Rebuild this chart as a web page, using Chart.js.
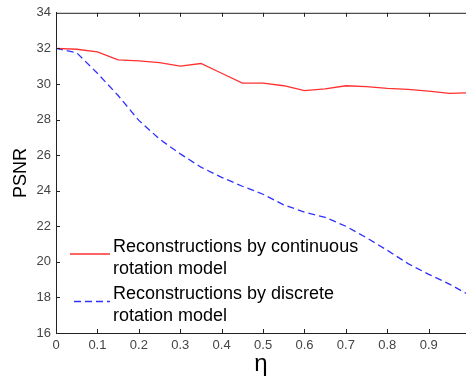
<!DOCTYPE html>
<html>
<head>
<meta charset="utf-8">
<script src="https://cdn.jsdelivr.net/npm/chart.js@4/dist/chart.umd.min.js"></script>
<style>
  html, body { margin: 0; padding: 0; background: #fff; }
  #wrap { width: 466px; height: 384px; }
</style>
</head>
<body>
<div id="wrap"><canvas id="psnrChart" width="466" height="384"></canvas></div>
<script>
// eta sampled every 0.05
const etaValues = [0, 0.05, 0.1, 0.15, 0.2, 0.25, 0.3, 0.35, 0.4, 0.45, 0.5,
                   0.55, 0.6, 0.65, 0.7, 0.75, 0.8, 0.85, 0.9, 0.95, 1.0];
const continuousPsnr = [32.0, 31.95, 31.8, 31.35, 31.3, 31.2, 31.0, 31.15, 30.6, 30.05, 30.05,
                        29.9, 29.62, 29.72, 29.9, 29.85, 29.75, 29.7, 29.6, 29.47, 29.5];
const discretePsnr = [32.0, 31.75, 30.6, 29.35, 27.95, 26.9, 26.07, 25.32, 24.75, 24.25, 23.8,
                      23.2, 22.8, 22.5, 22.0, 21.35, 20.65, 19.9, 19.3, 18.75, 18.1];
const legendLabels = [
  ['Reconstructions by continuous', 'rotation model'],
  ['Reconstructions by discrete', 'rotation model']
];
const xLimits = [0, 0.99];
const yLimits = [16, 34];

const toPoints = (ys) => etaValues.map((x, i) => ({ x: x, y: ys[i] }));

// inward tick marks, top border line and the in-plot legend
const matlabAxes = {
  id: 'matlabAxes',
  afterDraw(chart) {
    const { ctx, chartArea: a, scales } = chart;
    ctx.save();
    ctx.strokeStyle = '#222';
    ctx.lineWidth = 1;
    ctx.beginPath();
    ctx.moveTo(a.left, a.top + 0.5);
    ctx.lineTo(a.right, a.top + 0.5);
    scales.x.ticks.forEach(t => {
      const px = Math.round(scales.x.getPixelForValue(t.value)) + 0.5;
      if (px <= a.left + 1) return;
      ctx.moveTo(px, a.bottom);
      ctx.lineTo(px, a.bottom - 4);
      ctx.moveTo(px, a.top);
      ctx.lineTo(px, a.top + 4);
    });
    scales.y.ticks.forEach(t => {
      const py = Math.round(scales.y.getPixelForValue(t.value)) + 0.5;
      if (py >= a.bottom - 1 || py <= a.top + 1) return;
      ctx.moveTo(a.left, py);
      ctx.lineTo(a.left + 4, py);
    });
    ctx.stroke();

    // legend
    const entries = [
      { y: 254, x0: 70, x1: 110, base: [251.5, 273.5] },
      { y: 301.5, x0: 74, x1: 110, base: [298.5, 320.5] }
    ];
    ctx.font = '18px "Liberation Sans", Arial, sans-serif';
    ctx.textBaseline = 'alphabetic';
    ctx.textAlign = 'left';
    chart.data.datasets.forEach((ds, i) => {
      const e = entries[i];
      ctx.strokeStyle = ds.borderColor;
      ctx.lineWidth = ds.borderWidth;
      ctx.setLineDash(ds.borderDash || []);
      ctx.beginPath();
      ctx.moveTo(e.x0, e.y);
      ctx.lineTo(e.x1, e.y);
      ctx.stroke();
      ctx.setLineDash([]);
      ctx.fillStyle = '#000';
      legendLabels[i].forEach((line, j) => ctx.fillText(line, 113, e.base[j]));
    });
    ctx.restore();
  }
};

const ctx = document.getElementById('psnrChart').getContext('2d');

new Chart(ctx, {
  type: 'line',
  data: {
    datasets: [
      {
        label: legendLabels[0].join(' '),
        data: toPoints(continuousPsnr),
        borderColor: '#ff3030',
        borderWidth: 1.3,
        pointRadius: 0,
        tension: 0,
        fill: false
      },
      {
        label: legendLabels[1].join(' '),
        data: toPoints(discretePsnr),
        borderColor: '#3030ff',
        borderWidth: 1.3,
        borderDash: [7, 4],
        pointRadius: 0,
        tension: 0,
        fill: false
      }
    ]
  },
  options: {
    responsive: false,
    animation: false,
    layout: { padding: { top: 12, right: 0, left: 0, bottom: 0 } },
    scales: {
      x: {
        type: 'linear',
        min: xLimits[0],
        max: xLimits[1],
        afterFit: (scale) => { scale.height = 51; },
        grid: { display: false, drawTicks: false },
        border: { display: true, color: '#222', width: 1 },
        ticks: {
          stepSize: 0.1,
          includeBounds: false,
          padding: 5,
          color: '#444',
          font: { family: '"Liberation Sans", Arial, sans-serif', size: 13 },
          callback: (v) => v === 0 ? '0' : v.toFixed(1)
        },
        title: {
          display: true,
          text: 'η',
          color: '#000',
          padding: { top: 0, bottom: 5 },
          font: { family: '"Liberation Sans", Arial, sans-serif', size: 24 }
        }
      },
      y: {
        min: yLimits[0],
        max: yLimits[1],
        afterFit: (scale) => { scale.width = 56; },
        grid: { display: false, drawTicks: false },
        border: { display: true, color: '#222', width: 1 },
        ticks: {
          stepSize: 2,
          padding: 5,
          color: '#444',
          font: { family: '"Liberation Sans", Arial, sans-serif', size: 13 }
        },
        title: {
          display: true,
          text: 'PSNR',
          color: '#000',
          padding: { top: 10, bottom: 0 },
          font: { family: '"Liberation Sans", Arial, sans-serif', size: 18 }
        }
      }
    },
    plugins: {
      legend: { display: false },
      tooltip: { enabled: false }
    }
  },
  plugins: [matlabAxes]
});
</script>
</body>
</html>
